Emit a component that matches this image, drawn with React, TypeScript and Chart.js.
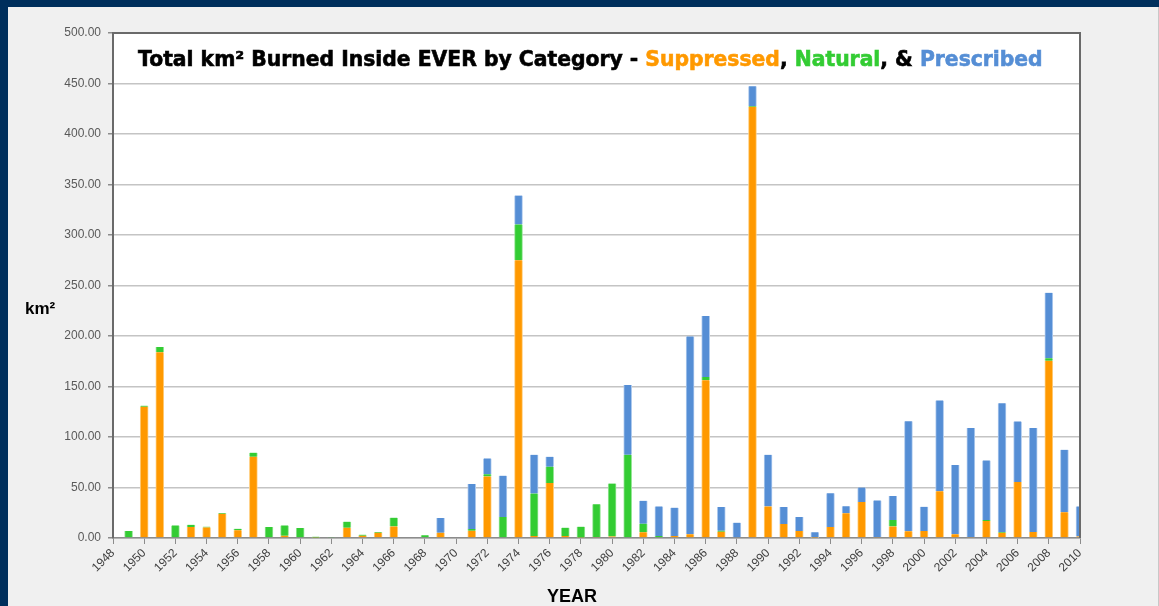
import React, { useEffect, useRef } from "react";
import { Chart, registerables } from "chart.js";

Chart.register(...registerables);

const years = [
  "1948", "1949", "1950", "1951", "1952", "1953", "1954", "1955", "1956", "1957",
  "1958", "1959", "1960", "1961", "1962", "1963", "1964", "1965", "1966", "1967",
  "1968", "1969", "1970", "1971", "1972", "1973", "1974", "1975", "1976", "1977",
  "1978", "1979", "1980", "1981", "1982", "1983", "1984", "1985", "1986", "1987",
  "1988", "1989", "1990", "1991", "1992", "1993", "1994", "1995", "1996", "1997",
  "1998", "1999", "2000", "2001", "2002", "2003", "2004", "2005", "2006", "2007",
  "2008", "2009", "2010",
];

const suppressed = [
  0, 0, 130, 184, 0, 11, 10.5, 24, 7.6, 80.5,
  0, 2.3, 0, 0.5, 0, 10.2, 2.3, 5.3, 11.5, 0,
  0, 5.3, 0, 7.3, 61, 0, 275, 2, 54.4, 2,
  0.5, 1, 1.6, 0, 5.6, 0, 2, 3.6, 156.3, 6.3,
  0, 427, 31.3, 13.8, 6.9, 0.3, 10.9, 24.5, 35.7, 1,
  11.5, 6.6, 6.9, 46.2, 3.6, 1, 16.8, 5.3, 55.4, 5.9,
  175.4, 25.4, 1.6,
];

const natural = [
  0, 7, 1, 5, 12.5, 2, 0.7, 0.7, 1.6, 4,
  10.8, 10.2, 9.9, 0.8, 1, 6, 1, 0.6, 8.6, 0,
  2.6, 0, 0, 1.6, 2, 20.8, 35.5, 42, 16.2, 8.2,
  10.7, 32.3, 52.4, 82.4, 8.6, 2, 0, 0, 3.2, 1,
  0, 0.7, 0, 0, 0, 0, 0, 0, 0, 0,
  6.3, 0, 0, 0, 0, 0, 1, 0.6, 0, 0,
  2.6, 0, 0,
];

const prescribed = [
  0, 0, 0, 0, 0, 0, 0, 0, 0, 0,
  0, 0, 0, 0, 0, 0, 0, 0, 0, 0,
  0, 14.5, 0, 44.5, 15.8, 40.9, 28.5, 38.4, 9.8, 0,
  0, 0, 0, 69, 22.7, 29.3, 28, 196, 60.4, 23.4,
  15.2, 19.5, 51.1, 16.9, 13.9, 5.3, 33.3, 7, 14.3, 36.2,
  23.7, 109, 24, 90, 68.6, 107.8, 59, 127.6, 60, 102.9,
  64.7, 62, 29.7,
];

const titleParts: [string, string][] = [
  ["Total km² Burned Inside EVER by Category - ", "#000000"],
  ["Suppressed", "#ff9900"],
  [", ", "#000000"],
  ["Natural", "#33cc33"],
  [", & ", "#000000"],
  ["Prescribed", "#558ed5"],
];

const decorPlugin = {
  id: "decor",
  beforeDraw(chart: any) {
    const { ctx, chartArea } = chart;
    ctx.save();
    ctx.fillStyle = "#ffffff";
    ctx.fillRect(chartArea.left, chartArea.top, chartArea.right - chartArea.left, chartArea.bottom - chartArea.top);
    ctx.restore();
  },
  afterDraw(chart: any) {
    const { ctx, chartArea } = chart;
    const { left, right, top, bottom } = chartArea;
    ctx.save();
    // plot frame
    ctx.strokeStyle = "#6a6a6a";
    ctx.lineWidth = 2;
    ctx.beginPath();
    ctx.moveTo(left, bottom);
    ctx.lineTo(left, top);
    ctx.lineTo(right, top);
    ctx.lineTo(right, bottom);
    ctx.stroke();

    // title
    const family = '"DejaVu Sans", "Liberation Sans", sans-serif';
    ctx.font = `bold 20px ${family}`;
    const full = titleParts.map((p) => p[0]).join("");
    const w = ctx.measureText(full).width;
    const size = (20 * 905) / w;
    ctx.font = `bold ${size}px ${family}`;
    ctx.textBaseline = "alphabetic";
    ctx.textAlign = "left";
    ctx.lineWidth = 0.6;
    let x = 138;
    for (const [t, c] of titleParts) {
      ctx.fillStyle = c;
      ctx.strokeStyle = c;
      ctx.fillText(t, x, 66);
      ctx.strokeText(t, x, 66);
      x += ctx.measureText(t).width;
    }

    // axis titles
    ctx.fillStyle = "#000000";
    ctx.font = 'bold 17px "Liberation Sans", Arial, sans-serif';
    ctx.fillText("km²", 25, 314);
    ctx.font = 'bold 18px "Liberation Sans", Arial, sans-serif';
    ctx.textAlign = "center";
    ctx.fillText("YEAR", 572, 602);
    ctx.restore();
  },
};

export default function App() {
  const ref = useRef<HTMLCanvasElement>(null);
  useEffect(() => {
    document.body.style.margin = "0";
    const chart = new Chart(ref.current as HTMLCanvasElement, {
      type: "bar",
      data: {
        labels: years,
        datasets: [
          {
            label: "Suppressed",
            data: suppressed,
            backgroundColor: "#ff9900",
            borderColor: "#ffcf80",
            borderWidth: { left: 1, right: 1, top: 0, bottom: 0 },
            borderSkipped: false,
            barThickness: 8,
            clip: 0,
          },
          {
            label: "Natural",
            data: natural,
            backgroundColor: "#33cc33",
            borderColor: "#9ae69a",
            borderWidth: { left: 1, right: 1, top: 0, bottom: 0 },
            borderSkipped: false,
            barThickness: 8,
            clip: 0,
          },
          {
            label: "Prescribed",
            data: prescribed,
            backgroundColor: "#558ed5",
            borderColor: "#b0cbee",
            borderWidth: { left: 1, right: 1, top: 0, bottom: 0 },
            borderSkipped: false,
            barThickness: 8,
            clip: 0,
          },
        ],
      } as any,
      options: {
        responsive: false,
        animation: false,
        devicePixelRatio: 1,
        layout: { padding: { top: 33, right: 79, left: 0, bottom: 0 } },
        plugins: {
          legend: { display: false },
          title: { display: false },
          tooltip: { enabled: false },
        },
        scales: {
          x: {
            type: "category",
            stacked: true,
            offset: false,
            grid: {
              offset: false,
              drawOnChartArea: false,
              drawTicks: true,
              tickLength: 6,
              color: (c: any) => (c.index % 2 === 0 ? "#8c8c8c" : "rgba(0,0,0,0)"),
            },
            border: { color: "#8c8c8c", width: 1.5 },
            ticks: {
              autoSkip: false,
              maxRotation: 45,
              minRotation: 45,
              color: "#404040",
              padding: 2,
              font: { family: '"Liberation Sans", Arial, sans-serif', size: 12 },
              callback: (_v: any, i: number) => (i % 2 === 0 ? years[i] : ""),
            },
            afterFit: (s: any) => {
              s.height = 68;
            },
          },
          y: {
            stacked: true,
            min: 0,
            max: 500,
            ticks: {
              stepSize: 50,
              color: "#595959",
              padding: 7,
              font: { family: '"Liberation Sans", Arial, sans-serif', size: 12 },
              callback: (v: any) => Number(v).toFixed(2),
            },
            grid: { color: "#c4c4c4", lineWidth: 1.5, tickLength: 5, tickColor: "#8c8c8c" },
            border: { color: "#7a7a7a", width: 2 },
            afterFit: (s: any) => {
              s.width = 113;
            },
          },
        },
      } as any,
      plugins: [decorPlugin],
    });
    return () => chart.destroy();
  }, []);

  return (
    <div style={{ position: "relative", width: 1159, height: 606, background: "#002f5c", overflow: "hidden" }}>
      <div
        style={{
          position: "absolute",
          left: 8,
          top: 7,
          width: 1150,
          height: 599,
          background: "#f0f0f0",
          borderRight: "1px solid #c8c8c8",
        }}
      />
      <canvas
        ref={ref}
        width={1159}
        height={606}
        style={{ position: "absolute", left: 0, top: 0, width: 1159, height: 606 }}
      />
    </div>
  );
}
